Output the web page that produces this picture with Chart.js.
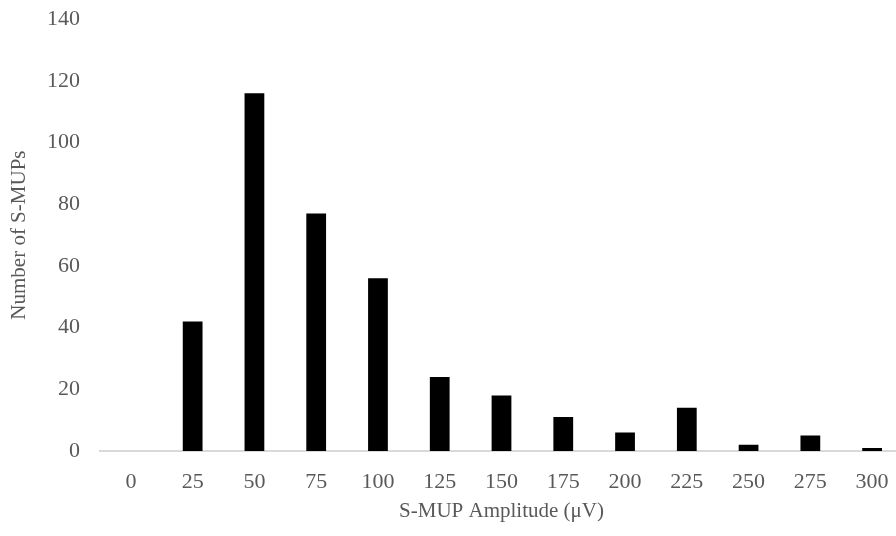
<!DOCTYPE html>
<html lang="en">
<head>
    <meta charset="UTF-8">
    <title>S-MUP Amplitude</title>
    <style>
        body { margin: 0; overflow: hidden; background: #fff; }
        #wrap { width: 904px; height: 542px; margin-top: -6px; }
    </style>
</head>
<body>
    <script src="https://cdn.jsdelivr.net/npm/chart.js@4.4.0/dist/chart.umd.min.js"></script>
    <div id="wrap"><canvas id="hist"></canvas></div>
    <script>
        var amplitudes = ['0', '25', '50', '75', '100', '125', '150', '175', '200', '225', '250', '275', '300'];
        var counts = [0, 42, 116, 77, 56, 24, 18, 11, 6, 14, 2, 5, 1];

        var textColor = '#595959';
        var fontFamily = "'Liberation Serif', 'Times New Roman', serif";

        window.onload = function () {
            var ctx = document.getElementById('hist').getContext('2d');
            new Chart(ctx, {
                type: 'bar',
                data: {
                    labels: amplitudes,
                    datasets: [{
                        label: 'Number of S-MUPs',
                        data: counts,
                        backgroundColor: '#000000',
                        barPercentage: 0.32,
                        categoryPercentage: 1.0
                    }]
                },
                options: {
                    responsive: true,
                    maintainAspectRatio: false,
                    animation: false,
                    layout: { padding: { top: 0, right: 1, left: 3, bottom: 8 } },
                    plugins: {
                        legend: { display: false },
                        tooltip: { enabled: false }
                    },
                    scales: {
                        x: {
                            grid: { display: false },
                            border: { display: true, color: '#d9d9d9', width: 2 },
                            ticks: {
                                color: textColor,
                                font: { family: fontFamily, size: 22 },
                                padding: 10
                            },
                            title: {
                                display: true,
                                text: 'S-MUP Amplitude (μV)',
                                color: textColor,
                                font: { family: fontFamily, size: 21 },
                                padding: { top: 4 }
                            },
                            afterFit: function (scale) { scale.height = 77; }
                        },
                        y: {
                            min: 0,
                            max: 140,
                            grid: { display: false },
                            border: { display: false },
                            ticks: {
                                stepSize: 20,
                                color: textColor,
                                font: { family: fontFamily, size: 22 },
                                padding: 12
                            },
                            title: {
                                display: true,
                                text: 'Number of S-MUPs',
                                color: textColor,
                                font: { family: fontFamily, size: 21 },
                                padding: { bottom: 4 }
                            },
                            afterFit: function (scale) { scale.width = 97; }
                        }
                    }
                }
            });
        };
    </script>
</body>
</html>
